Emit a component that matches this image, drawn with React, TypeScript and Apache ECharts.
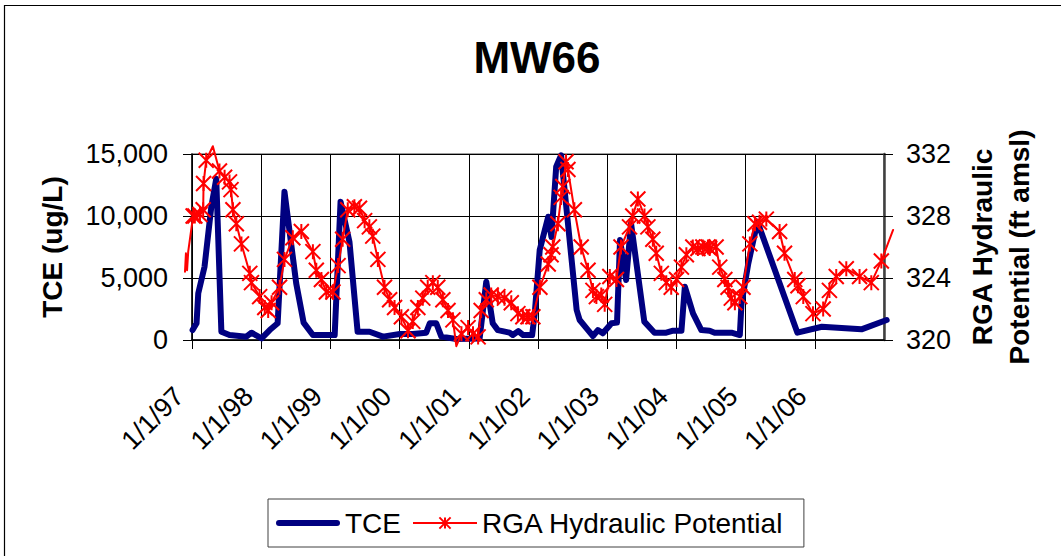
import React, { useEffect, useRef } from 'react';
import * as echarts from 'echarts';

const FONT = '"Liberation Sans", Arial, sans-serif';

const chartTitle = 'MW66';
const xMin = '1997-01-01';
const xMax = '2007-01-01';

const tceName = 'TCE';
const tceDates = [
  '1997-01-04','1997-01-25','1997-02-03','1997-03-08','1997-04-13','1997-05-09','1997-06-05','1997-07-18','1997-10-15','1997-11-11',
  '1998-01-03','1998-02-15','1998-03-29','1998-05-04','1998-07-05','1998-08-13','1998-10-01',
  '1999-01-24','1999-02-24','1999-04-12','1999-05-25','1999-07-27','1999-10-06',
  '2000-01-03','2000-03-12','2000-05-21','2000-06-09','2000-07-13','2000-08-09','2000-10-27',
  '2001-02-27','2001-04-03','2001-05-07','2001-06-03','2001-08-04','2001-08-21','2001-09-19','2001-10-15','2001-12-01','2001-12-15',
  '2002-01-10','2002-02-24','2002-03-13','2002-04-07','2002-05-03','2002-07-24','2002-08-09','2002-09-22','2002-10-18','2002-11-13','2002-12-09',
  '2003-01-24','2003-02-22','2003-03-10','2003-04-11','2003-05-07','2003-07-16','2003-09-08','2003-11-09','2003-12-15',
  '2004-01-28','2004-02-15','2004-03-29','2004-05-12','2004-06-25','2004-07-21','2004-10-18','2004-12-01','2004-12-10',
  '2005-01-15','2005-03-04','2005-10-01','2006-02-07','2006-09-04','2007-01-15',
];
const tceValues = [
  800, 1350, 3760, 5900, 10750, 13000, 670, 400, 270, 590,
  130, 800, 1350, 11960, 4570, 1400, 400,
  400, 11150, 7920, 670, 670, 270,
  480, 480, 590, 1350, 1350, 270, 80,
  130, 4700, 1350, 800, 590, 400, 720, 400, 400, 2150,
  7260, 9940, 8300, 13970, 14900, 2420, 1610, 800, 320, 800, 540,
  1350, 1400, 8060, 4840, 9400, 1480, 590, 590, 750,
  750, 4300, 2150, 800, 750, 590, 590, 400, 2950,
  6180, 9540, 590, 1070, 860, 1610,
];

const rgaName = 'RGA Hydraulic Potential';
const rgaDates = [
  '1996-11-25','1996-11-30','1996-12-06','1996-12-12',
  '1997-01-07','1997-01-16','1997-02-12','1997-03-01','1997-03-03','1997-03-17','1997-04-21','1997-05-26','1997-06-22','1997-07-18','1997-07-26','1997-08-05','1997-08-23','1997-09-19','1997-11-02','1997-11-11','1997-12-24',
  '1998-01-20','1998-02-07','1998-02-25','1998-04-08','1998-05-04','1998-06-17','1998-08-01','1998-10-01','1998-10-19','1998-11-15','1998-12-11',
  '1999-01-15','1999-02-11','1999-03-07','1999-04-03','1999-05-08','1999-06-04','1999-07-01','1999-07-26','1999-08-13','1999-09-09','1999-10-14','1999-11-10','1999-12-06',
  '2000-01-11','2000-02-15','2000-03-11','2000-04-07','2000-05-03','2000-05-29','2000-06-25','2000-07-21','2000-08-17','2000-09-13','2000-10-09','2000-10-27','2000-11-23','2000-12-28',
  '2001-01-23','2001-02-19','2001-03-07','2001-04-03','2001-04-29','2001-06-03','2001-07-08','2001-08-13','2001-09-17','2001-10-13','2001-11-09','2001-12-05',
  '2002-01-11','2002-02-24','2002-03-11','2002-03-20','2002-04-16','2002-05-03','2002-05-12','2002-05-29','2002-06-08','2002-07-12','2002-08-17','2002-09-22','2002-10-18','2002-11-05','2002-12-01','2002-12-19',
  '2003-01-15','2003-02-19','2003-03-15','2003-04-29','2003-05-16','2003-06-12','2003-07-17','2003-08-04','2003-08-30','2003-09-17','2003-10-14','2003-11-09','2003-12-05',
  '2004-01-02','2004-01-28','2004-02-23','2004-03-28','2004-04-24','2004-05-20','2004-06-16','2004-06-25','2004-07-29','2004-08-17','2004-09-13','2004-09-30','2004-10-17','2004-11-05','2004-12-01','2004-12-18',
  '2005-01-23','2005-02-19','2005-03-15','2005-04-20','2005-06-29','2005-07-25','2005-09-17','2005-10-04','2005-11-01','2005-12-22',
  '2006-02-14','2006-03-19','2006-04-24','2006-06-16','2006-08-25','2006-10-26','2006-12-18','2007-02-18',
];
const rgaValues = [
  324.4, 325.6, 324.5, 325.7,
  328.0, 328.0, 328.1, 328.4, 330.1, 331.6, 332.5, 330.9, 330.5, 330.2, 329.7, 328.4, 327.5, 326.2, 324.3, 323.7, 322.8,
  322.1, 321.9, 322.4, 323.4, 325.2, 326.6, 327.0, 325.7, 324.5, 323.9, 323.1,
  323.1, 324.8, 326.5, 328.4, 328.6, 328.5, 327.7, 327.3, 326.7, 325.2, 323.4, 322.6, 322.1,
  321.5, 320.6, 321.2, 322.1, 322.7, 323.4, 323.7, 323.4, 322.6, 321.9, 321.3, 319.6, 320.4, 320.8,
  320.4, 320.2, 321.9, 322.6, 322.9, 322.8, 322.7, 322.4, 321.7, 321.5, 321.5, 321.5,
  323.4, 324.9, 325.5, 326.0, 327.5, 329.2, 329.9, 331.5, 331.0, 328.4, 326.0, 324.5, 323.2, 322.8, 322.9, 322.3,
  324.1, 323.9, 326.0, 327.3, 328.0, 329.1, 328.0, 327.3, 326.5, 325.6, 324.3, 323.7, 323.4,
  323.9, 324.7, 325.5, 326.0, 325.9, 326.0, 326.0, 325.9, 326.0, 324.7, 323.9, 323.4, 322.7, 322.4, 322.8, 323.4,
  326.2, 327.5, 327.6, 327.8, 327.0, 325.6, 323.9, 323.5, 322.8, 321.7,
  322.0, 323.2, 324.1, 324.6, 324.1, 323.7, 325.1, 327.1,
];

const leftAxisName = 'TCE (ug/L)';
const leftMin = 0;
const leftMax = 15000;
const leftStep = 5000;
const rightAxisName = 'RGA Hydraulic\nPotential (ft amsl)';
const rightMin = 320;
const rightMax = 332;
const rightStep = 4;

const STAR = 'path://M0 0L12 12M12 0L0 12M6 0L6 12';
const TCE_ICON = 'path://M3 0H61A3 3 0 0 1 61 6H3A3 3 0 0 1 3 0Z';

function toTime(d: string) {
  return new Date(d + 'T00:00:00').getTime();
}

function fmtDate(v: number) {
  const d = new Date(v);
  return `${d.getMonth() + 1}/${d.getDate()}/${String(d.getFullYear()).slice(2)}`;
}

export default function App() {
  const ref = useRef<HTMLDivElement>(null);
  useEffect(() => {
    if (!ref.current) return;
    const chart = echarts.init(ref.current, null, { renderer: 'svg' });
    const tMin = toTime(xMin);
    const tMax = toTime(xMax);
    const rgaAll = rgaDates.map((d, i) => [toTime(d), rgaValues[i]]);
    const rgaInside = rgaAll.filter(([t, v]) => t >= tMin && t <= tMax && v >= rightMin && v <= rightMax);
    const tceAll = tceDates.map((d, i) => [toTime(d), tceValues[i]]);

    const polylineItem = (rows: number[][], color: string, width: number) => (params: any, api: any) => {
      if (params.dataIndex !== 0) return null;
      const pts = rows.map((r) => api.coord(r));
      return {
        type: 'polyline',
        shape: { points: pts },
        style: { stroke: color, lineWidth: width, fill: 'none', lineJoin: 'round', lineCap: 'round' },
        silent: true,
      };
    };

    const option: any = {
      animation: false,
      backgroundColor: '#ffffff',
      textStyle: { fontFamily: FONT },
      graphic: [
        {
          type: 'rect',
          shape: { x: 4.5, y: 5.5, width: 1200, height: 700 },
          style: { fill: 'none', stroke: '#000', lineWidth: 1.2 },
          silent: true,
        },
        {
          type: 'text',
          x: 537,
          y: 57,
          style: {
            text: chartTitle,
            fontSize: 44,
            fontWeight: 'bold',
            fontFamily: FONT,
            fill: '#000',
            align: 'center',
            verticalAlign: 'middle',
          },
        },
      ],
      grid: {
        left: 192,
        right: 177,
        top: 154,
        bottom: 216,
        show: true,
        borderColor: '#808080',
        borderWidth: 1.5,
        containLabel: false,
        outerBoundsMode: 'none',
      },
      legend: {
        left: 268,
        top: 499,
        padding: [10, 20, 10, 8],
        itemGap: 11,
        itemWidth: 64,
        itemHeight: 14,
        borderColor: '#404040',
        borderWidth: 1,
        textStyle: { fontSize: 28, fontFamily: FONT, color: '#000' },
        lineStyle: { width: 'inherit' },
        data: [
          { name: tceName, icon: TCE_ICON, itemStyle: { color: '#000080', borderWidth: 0 } },
          { name: rgaName, lineStyle: { opacity: 1, width: 2, color: '#ff0000' } },
        ],
      },
      xAxis: {
        type: 'time',
        min: tMin,
        max: tMax,
        splitNumber: 10,
        axisLine: { onZero: false, lineStyle: { color: '#000', width: 1.5 } },
        axisTick: { show: true, length: 9, lineStyle: { color: '#000', width: 1 } },
        axisLabel: {
          rotate: 45,
          margin: 39,
          padding: [0, 18, 0, 0],
          fontSize: 27,
          fontFamily: FONT,
          color: '#000',
          showMinLabel: true,
          showMaxLabel: false,
          hideOverlap: false,
          formatter: (v: number) => fmtDate(v),
        },
        splitLine: { show: true, lineStyle: { color: '#000', width: 1 } },
      },
      yAxis: [
        {
          type: 'value',
          position: 'left',
          min: leftMin,
          max: leftMax,
          interval: leftStep,
          axisLine: { show: true, lineStyle: { color: '#000', width: 1.5 } },
          axisTick: { show: true, length: 9, lineStyle: { color: '#000' } },
          axisLabel: {
            margin: 24,
            fontSize: 27,
            fontFamily: FONT,
            color: '#000',
            formatter: (v: number) => v.toLocaleString('en-US'),
          },
          splitLine: { show: true, lineStyle: { color: '#000', width: 1 } },
          name: leftAxisName,
          nameLocation: 'middle',
          nameRotate: 90,
          nameGap: 126,
          nameTextStyle: { fontSize: 28, fontWeight: 'bold', color: '#000', fontFamily: FONT },
        },
        {
          type: 'value',
          position: 'right',
          min: rightMin,
          max: rightMax,
          interval: rightStep,
          axisLine: { show: true, lineStyle: { color: '#404040', width: 2.5 } },
          axisTick: { show: true, length: 9, lineStyle: { color: '#000' } },
          axisLabel: { margin: 22, fontSize: 27, fontFamily: FONT, color: '#000' },
          splitLine: { show: false },
          name: rightAxisName,
          nameLocation: 'middle',
          nameRotate: 90,
          nameGap: 80,
          nameTextStyle: { fontSize: 28, fontWeight: 'bold', color: '#000', fontFamily: FONT, lineHeight: 37, align: 'center' },
        },
      ],
      series: [
        {
          name: tceName,
          type: 'custom',
          yAxisIndex: 0,
          data: tceAll,
          encode: { x: 0, y: 1 },
          renderItem: polylineItem(tceAll, '#000080', 6),
          itemStyle: { color: '#000080' },
          clip: false,
          z: 2,
        },
        {
          name: rgaName,
          type: 'line',
          yAxisIndex: 1,
          data: rgaInside,
          symbol: STAR,
          symbolSize: 15,
          showSymbol: true,
          showAllSymbol: true,
          lineStyle: { color: '#ff0000', width: 2, opacity: 0 },
          itemStyle: { color: '#ff0000', borderColor: '#ff0000', borderWidth: 2 },
          clip: false,
          z: 4,
        },
        {
          name: rgaName,
          type: 'custom',
          yAxisIndex: 1,
          data: rgaAll,
          encode: { x: 0, y: 1 },
          renderItem: polylineItem(rgaAll, '#ff0000', 2),
          itemStyle: { color: '#ff0000' },
          clip: false,
          z: 3,
        },
      ],
    };
    chart.setOption(option);
    return () => chart.dispose();
  }, []);
  return (
    <div
      ref={ref}
      style={{ position: 'fixed', left: 0, top: 0, width: 1061, height: 556, background: '#fff' }}
    />
  );
}
